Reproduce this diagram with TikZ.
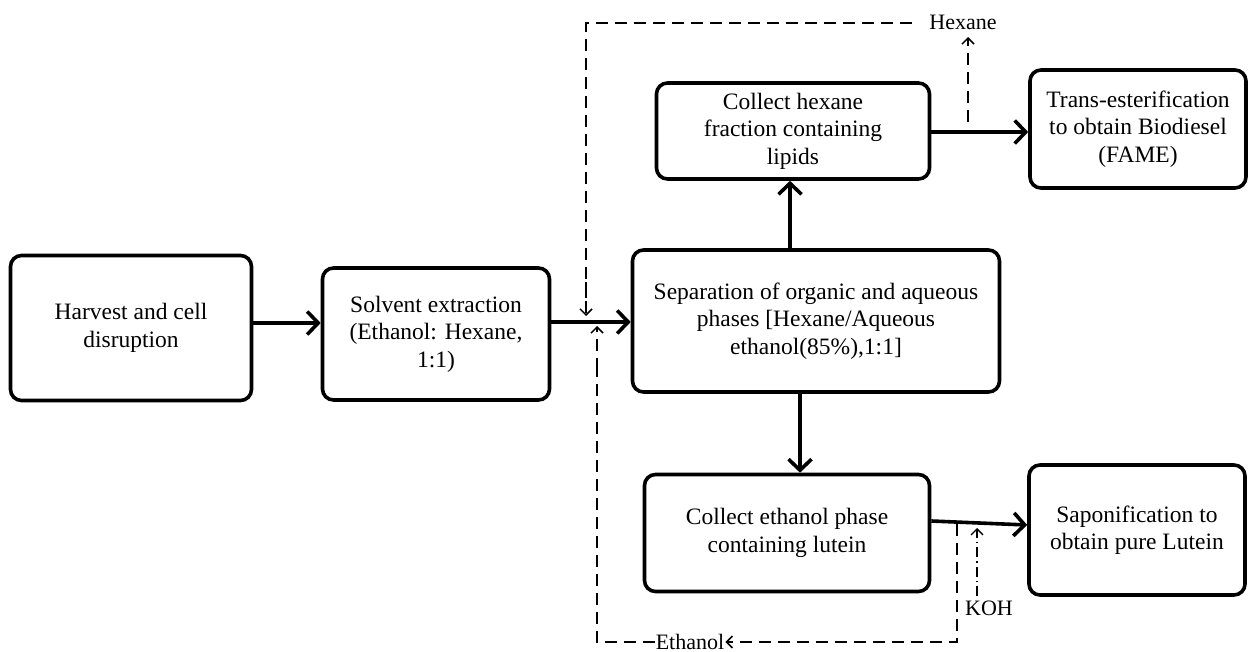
\documentclass[tikz,border=0pt]{standalone}
\usepackage{fontspec}
\setmainfont{Liberation Serif}
\usetikzlibrary{arrows.meta}
\begin{document}
\begin{tikzpicture}[x=1pt,y=-1pt,
  box/.style={draw,line width=3.6pt,rounded corners=11pt,align=center,inner sep=0pt,
    font=\fontsize{23.5}{27.5}\selectfont},
  flow/.style={line width=3.6pt,-{Straight Barb[length=11pt,width=23pt,line width=3.6pt]}},
  recyc/.style={line width=1.5pt,dash pattern=on 12pt off 7pt,-{Straight Barb[length=6pt,width=12pt,line width=1.5pt]}},
  dline/.style={line width=1.5pt,dash pattern=on 12pt off 7pt},
  lbl/.style={font=\fontsize{22}{26}\selectfont,inner sep=1pt}]
\useasboundingbox (0,0) rectangle (1251,652);
\node[box,minimum width=241pt,minimum height=145pt] (harv) at (131,328) {Harvest and cell\\disruption};
\node[box,minimum width=227pt,minimum height=132pt] (solv) at (436,334) {Solvent extraction\\(Ethanol: Hexane,\\1:1)};
\node[box,minimum width=367pt,minimum height=142pt] (sep) at (816,321) {Separation of organic and aqueous\\phases [Hexane/Aqueous\\ethanol(85\%),1:1]};
\node[box,minimum width=273pt,minimum height=96pt] (hex) at (793,131) {Collect hexane\\fraction containing\\lipids};
\node[box,minimum width=216pt,minimum height=118pt] (trans) at (1138,129) {Trans-esterification\\to obtain Biodiesel\\(FAME)};
\node[box,minimum width=285pt,minimum height=117pt] (eth) at (787,533) {Collect ethanol phase\\containing lutein};
\node[box,minimum width=216pt,minimum height=130pt] (sapo) at (1137,530) {Saponification to\\obtain pure Lutein};
% main flow
\draw[flow] (harv.east |- 0,323) -- (solv.west |- 0,323);
\draw[flow] (solv.east |- 0,322) -- (sep.west |- 0,322);
\draw[flow] (sep.north -| 790,0) -- (hex.south -| 790,0);
\draw[flow] (sep.south -| 800,0) -- (eth.north -| 800,0);
\draw[flow] (hex.east |- 0,132) -- (trans.west |- 0,132);
\draw[flow] (eth.east |- 0,521) -- (sapo.west |- 0,525);
% hexane recycle
\node[lbl] (hexl) at (963,22) {Hexane};
\draw[recyc] (968,122) -- (968,37);
\coordinate (ht) at (912,23);
\coordinate (hl) at (586,23);
\coordinate (hd) at (586,316);
\draw[dline] (ht) -- (hl) -- (586,300);
\draw[recyc] (586,282) -- (hd);
% ethanol recycle
\node[lbl] (ethl) at (690,642) {Ethanol};
\coordinate (e0) at (957,524);
\coordinate (e1) at (957,642);
\draw[recyc] (e0) -- (e1) -- (ethl.east);
\coordinate (e2) at (597,642);
\coordinate (eu) at (597,326);
\draw[dline] (ethl.west) -- (e2) -- (597,360);
\draw[recyc] (597,370) -- (eu);
% KOH
\node[lbl] (koh) at (989,608) {KOH};
\draw[line width=1.3pt,dash pattern=on 10pt off 4pt on 1.5pt off 4pt,-{Straight Barb[length=6pt,width=12pt,line width=1.3pt]}] (977,596) -- (977,528);
\end{tikzpicture}
\end{document}
